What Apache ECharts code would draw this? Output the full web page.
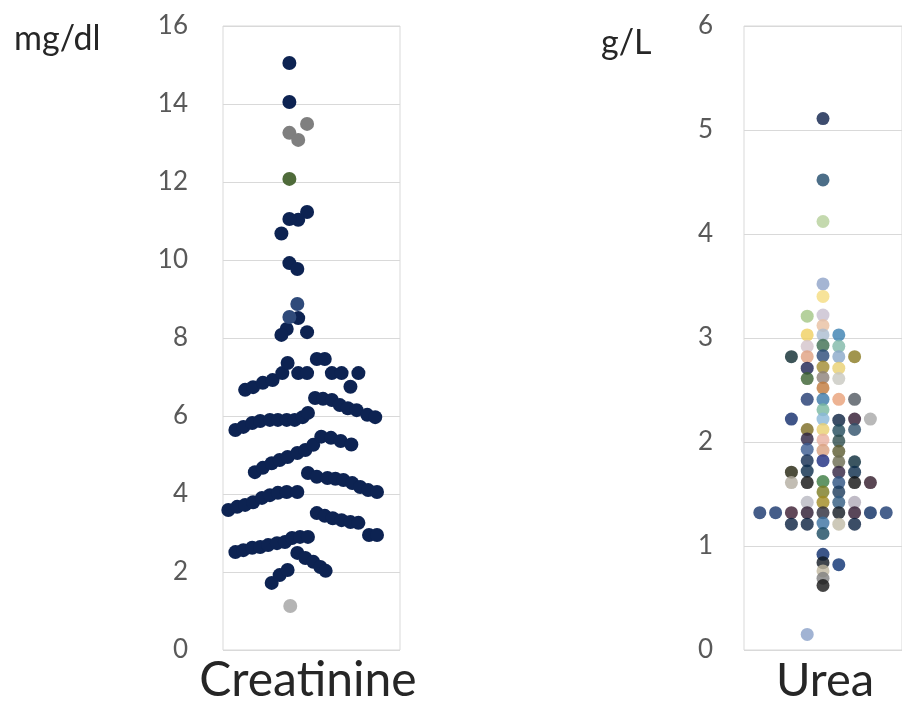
<!DOCTYPE html>
<html>
<head>
<meta charset="utf-8">
<script src="https://cdn.jsdelivr.net/npm/echarts@6/dist/echarts.min.js"></script>
<style>html,body{margin:0;padding:0;background:#fff}#c{width:902px;height:704px}</style>
</head>
<body>
<div id="c"></div>
<script>
// ---------- DATA ----------
const categories = ['Creatinine', 'Urea'];
const units = ['mg/dl', 'g/L'];
const creatTicks = [0, 2, 4, 6, 8, 10, 12, 14, 16];
const ureaTicks = [0, 1, 2, 3, 4, 5, 6];

// Creatinine swarm: [horizontal jitter offset (-1..1), value mg/dl]
const creatNavy = [
  [-0.25,15.05],[-0.25,14.05],[-0.05,11.23],[-0.15,11.03],[-0.25,11.05],[-0.34,10.68],
  [-0.25,9.92],[-0.16,9.77],[-0.15,8.51],[-0.28,8.23],[-0.34,8.08],[-0.05,8.15],
  [-0.75,6.67],[-0.66,6.74],[-0.55,6.85],[-0.44,6.92],[-0.33,7.10],[-0.27,7.36],
  [-0.15,7.10],[-0.05,7.10],[0.06,7.46],[0.15,7.46],[0.23,7.10],[0.34,7.10],[0.53,7.10],[0.44,6.75],
  [0.04,6.46],[0.13,6.44],[0.23,6.41],[0.32,6.28],[0.41,6.20],[0.51,6.15],[0.63,6.03],[0.72,5.97],
  [-0.86,5.64],[-0.77,5.72],[-0.67,5.82],[-0.58,5.87],[-0.47,5.90],[-0.38,5.90],[-0.28,5.90],[-0.19,5.90],[-0.10,5.97],[-0.04,6.08],
  [-0.64,4.56],[-0.55,4.67],[-0.45,4.79],[-0.36,4.87],[-0.27,4.95],[-0.16,5.05],[-0.07,5.13],[0.02,5.26],[0.11,5.47],
  [0.22,5.44],[0.33,5.36],[0.45,5.27],
  [-0.04,4.54],[0.06,4.44],[0.18,4.41],[0.27,4.39],[0.36,4.36],[0.46,4.28],[0.55,4.18],[0.64,4.10],[0.74,4.05],
  [-0.94,3.59],[-0.84,3.67],[-0.75,3.72],[-0.66,3.79],[-0.56,3.90],[-0.47,3.97],[-0.38,4.03],[-0.28,4.05],[-0.16,4.05],
  [0.06,3.51],[0.15,3.44],[0.24,3.38],[0.34,3.33],[0.44,3.28],[0.53,3.26],[0.65,2.95],[0.74,2.95],
  [-0.86,2.51],[-0.77,2.56],[-0.67,2.62],[-0.58,2.64],[-0.49,2.69],[-0.39,2.74],[-0.30,2.77],[-0.22,2.87],[-0.13,2.90],[-0.04,2.90],
  [-0.16,2.49],[-0.07,2.36],[0.02,2.26],[0.10,2.13],[0.16,2.03],
  [-0.45,1.72],[-0.36,1.92],[-0.27,2.05]
];
const creatGrey = [[-0.05,13.49],[-0.25,13.26],[-0.15,13.08]];
const creatGreen = [[-0.25,12.08]];
const creatSteel = [[-0.16,8.87],[-0.25,8.54]];
const creatPale = [[-0.24,1.13]];

// Urea swarm: [column offset, value g/L]
const ureaPoints = [
  [-4,1.32],[-3,1.32],
  [-2,2.82],[-2,2.22],[-2,1.71],[-2,1.61],[-2,1.32],[-2,1.21],
  [-1,3.21],[-1,3.03],[-1,2.92],[-1,2.82],[-1,2.71],[-1,2.61],[-1,2.41],[-1,2.12],[-1,2.03],[-1,1.93],
  [-1,1.82],[-1,1.72],[-1,1.61],[-1,1.42],[-1,1.32],[-1,1.21],[-1,0.15],
  [0,5.11],[0,4.52],[0,4.12],[0,3.52],[0,3.40],[0,3.22],[0,3.12],[0,3.03],[0,2.93],[0,2.83],[0,2.72],
  [0,2.62],[0,2.52],[0,2.41],[0,2.31],[0,2.22],[0,2.12],[0,2.02],[0,1.92],[0,1.82],[0,1.62],[0,1.52],
  [0,1.42],[0,1.32],[0,1.22],[0,1.12],[0,0.92],[0,0.84],[0,0.76],[0,0.69],[0,0.62],
  [1,3.03],[1,2.92],[1,2.82],[1,2.71],[1,2.61],[1,2.41],[1,2.21],[1,2.11],[1,2.01],[1,1.91],[1,1.81],
  [1,1.71],[1,1.61],[1,1.52],[1,1.42],[1,1.32],[1,1.21],[1,0.82],
  [2,2.82],[2,2.41],[2,2.22],[2,2.12],[2,1.81],[2,1.71],[2,1.61],[2,1.42],[2,1.32],[2,1.21],
  [3,2.22],[3,1.61],[3,1.32],
  [4,1.32]
];
// colour of each urea point (same order as ureaPoints)
const ureaColors = [
  '#16346b','#16346b',
  '#0d2a30','#102a6a','#22220c','#b3ada0','#3a1a30','#0a2040',
  '#a3c585','#f0d060','#d3c3cb','#e0a080','#1a2050','#3a6030','#203a70','#7a6a20','#2a2040','#3a5a90',
  '#102a50','#0a2a4a','#101010','#b8b8c0','#2a1830','#0a2040','#8aa0c8',
  '#0c1f4a','#1f4a6a','#b5cf9a','#8fa3c8','#f5dc80','#c8bfd0','#e8bfa0','#aabbd0','#3e6e50','#2a4a78','#a08a30',
  '#8c7f78','#c0783a','#3a78a8','#78b8a0','#8ab8d8','#e8d070','#e8b0a0','#d8a080','#1a2a80','#3a7a40','#7a7a20',
  '#a08a20','#2a2a3a','#3a70a0','#1a4a60','#0a2a6a','#101820','#c0b8a0','#808080','#151515',
  '#3a80b0','#80b8a8','#8aa8c8','#e8d070','#c8c8c0','#e8a078','#0a2040','#204a5a','#2a4a4a','#5a5a30','#6a6a50',
  '#302040','#2a5080','#1a3a5a','#305a80','#101820','#c0bca8','#0a3070',
  '#8a7a20','#505860','#301830','#30506a','#0a2a3a','#0a2a4a','#101010','#b0aab8','#301830','#0a2040',
  '#a8a8a8','#301828','#0a2a60',
  '#1a3a70'
];

// ---------- CHART ----------
const FONT = 'Lato';
const chart = echarts.init(document.getElementById('c'), null, {renderer: 'canvas'});
const grid = (left, width) => ({left, top: 26, width, height: 624, show: true,
  borderColor: '#d9d9d9', borderWidth: 1, backgroundColor: '#fff', containLabel: false});
const yAx = (gi, max, interval, margin) => ({
  gridIndex: gi, type: 'value', min: 0, max, interval,
  axisLine: {show: false}, axisTick: {show: false},
  splitLine: {show: true, lineStyle: {color: '#d9d9d9', width: 1}},
  axisLabel: {color: '#595959', fontFamily: FONT, fontSize: 26, margin}
});
const xAx = (gi, min, max) => ({gridIndex: gi, type: 'value', min, max, show: false,
  splitLine: {show: false}});
const sc = (name, data, color, size, xi) => ({
  name, type: 'scatter', xAxisIndex: xi, yAxisIndex: xi, data, symbolSize: size,
  itemStyle: {color, opacity: 1}, silent: true, animation: false
});

chart.setOption({
  animation: false,
  grid: [grid(223, 177), grid(744, 170)],
  xAxis: [xAx(0, -1, 1), xAx(1, -5, 5)],
  yAxis: [yAx(0, creatTicks[creatTicks.length-1], creatTicks[1]-creatTicks[0], 35),
          yAx(1, ureaTicks[ureaTicks.length-1], ureaTicks[1]-ureaTicks[0], 31)],
  series: [
    sc('creatNavy', creatNavy, '#0d2352', 14, 0),
    sc('creatGrey', creatGrey, '#7f7f7f', 14, 0),
    sc('creatGreen', creatGreen, '#4f6b3a', 14, 0),
    sc('creatSteel', creatSteel, '#2f4a7a', 14, 0),
    sc('creatPale', creatPale, '#b4b4b4', 14, 0),
    {
      name: 'urea', type: 'scatter', xAxisIndex: 1, yAxisIndex: 1, symbolSize: 13,
      data: ureaPoints.map((p, i) => ({value: p, itemStyle: {color: ureaColors[i]}})),
      silent: true, animation: false
    }
  ],
  graphic: [
    {type: 'text', left: 14, top: 22, style: {text: units[0], fontFamily: FONT, fontSize: 34, fill: '#262626'}},
    {type: 'text', left: 601, top: 26, style: {text: units[1], fontFamily: FONT, fontSize: 34, fill: '#262626'}},
    {type: 'text', x: 308, y: 681, style: {text: categories[0], fontFamily: FONT, fontSize: 48, fill: '#262626', align: 'center', verticalAlign: 'middle'}},
    {type: 'text', x: 825, y: 681, style: {text: categories[1], fontFamily: FONT, fontSize: 47, fill: '#262626', align: 'center', verticalAlign: 'middle'}}
  ]
});
</script>
</body>
</html>
